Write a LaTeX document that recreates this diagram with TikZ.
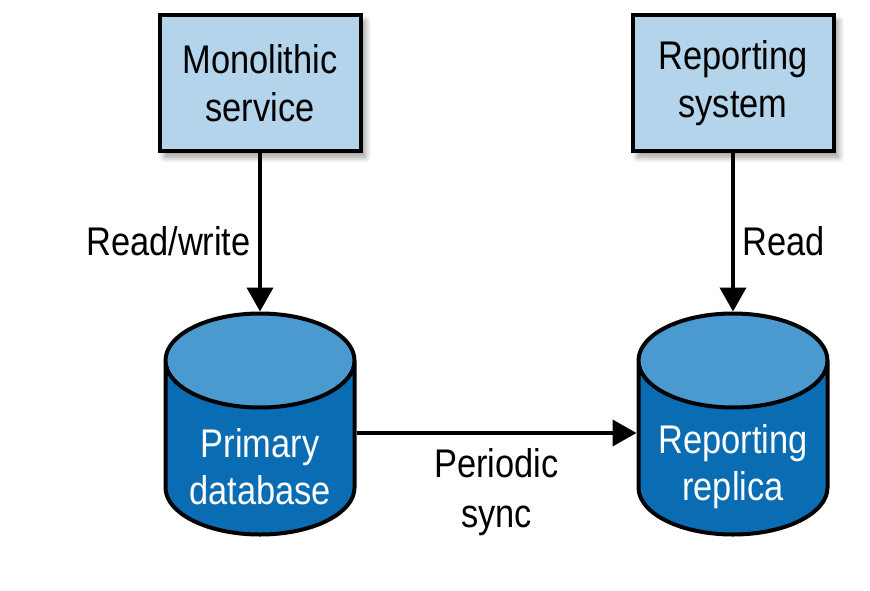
\documentclass[tikz,border=0pt]{standalone}
\usepackage{fontspec}
\setmainfont{Liberation Sans}[FakeStretch=0.86]
\usetikzlibrary{shapes.geometric,arrows.meta,shadows.blur}

\definecolor{boxblue}{HTML}{B3D4EA}
\definecolor{dbbody}{HTML}{0A6DB3}
\definecolor{dbtop}{HTML}{4A9AD0}

\tikzset{
	sysbox/.style={draw, line width=4pt, fill=boxblue, minimum width=201pt, minimum height=136pt,
		align=center, font=\fontsize{40}{48}\selectfont,
		blur shadow={shadow xshift=5pt, shadow yshift=-6pt, shadow blur steps=8, shadow blur radius=6pt}},
	dbcyl/.style={cylinder, shape border rotate=90, aspect=0.5, draw, line width=4pt,
		cylinder uses custom fill, cylinder body fill=dbbody, cylinder end fill=dbtop,
		inner xsep=94pt, inner ysep=0pt, minimum width=189pt, minimum height=221pt},
	dbtext/.style={text=white, align=center, font=\fontsize{40}{47}\selectfont, yshift=5pt},
	flow/.style={-{Triangle[width=26pt,length=24pt]}, line width=4pt},
	lbl/.style={font=\fontsize{40}{50}\selectfont, align=center}
}

\begin{document}
\begin{tikzpicture}
			\useasboundingbox (0pt,0pt) rectangle (870pt,-590pt);
			\node[sysbox] (mono) at (260pt,-83pt) {Monolithic\\service};
			\node[sysbox, right of=mono, node distance=473pt] (rep) {Reporting\\system};
			
			\node[dbcyl, below of=mono, node distance=341pt, anchor=shape center,
				label={[dbtext]center:Primary\\database}] (prim) {};
			\node[dbcyl, below of=rep, node distance=341pt, anchor=shape center,
				label={[dbtext]center:Reporting\\replica}] (repl) {};
			
			\draw[flow] (mono) -- node[lbl, left, xshift=-4pt, yshift=-9pt] {Read/write} (prim);
			\draw[flow] (rep) -- node[lbl, right, xshift=4pt, yshift=-9pt] {Read} (repl);
			\draw[flow] (prim.east |- 0,-433pt) -- node[lbl, below, yshift=-10pt] {Periodic\\sync} (repl.west |- 0,-433pt);
		\end{tikzpicture}
\end{document}
